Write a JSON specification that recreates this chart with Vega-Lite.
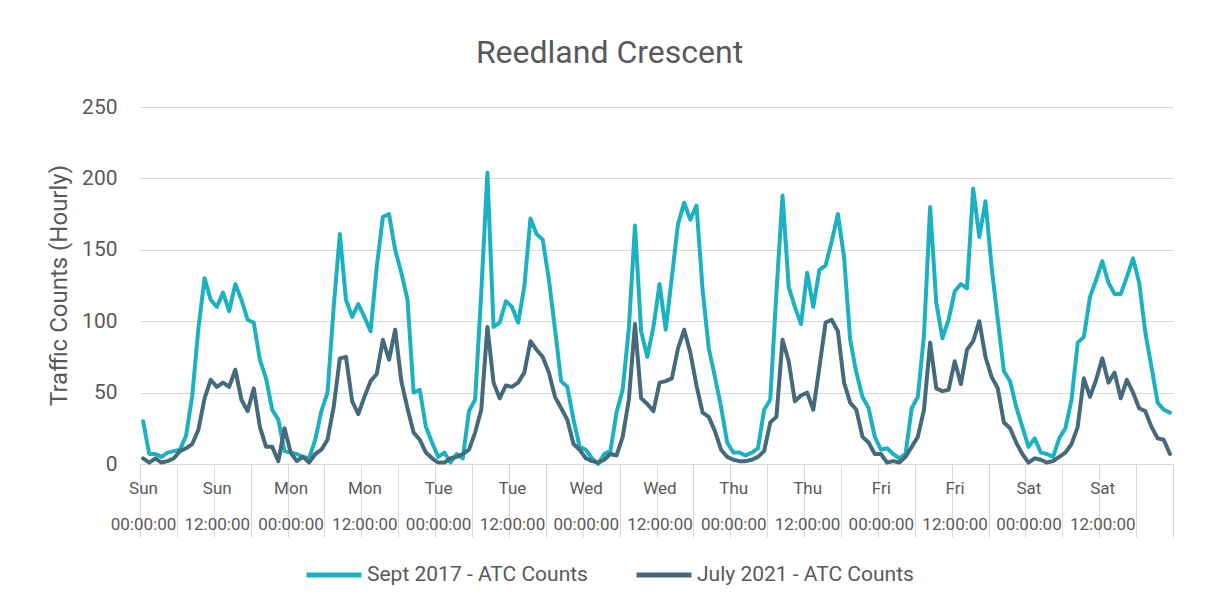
{
  "$schema": "https://vega.github.io/schema/vega-lite/v6.json",
  "autosize": {"type": "none"},
  "width": 1033,
  "height": 357,
  "padding": {"left": 140, "top": 107, "right": 32, "bottom": 143},
  "background": "white",
  "config": {
    "font": "Roboto",
    "view": {"stroke": null}
  },
  "title": {
    "text": "Reedland Crescent",
    "fontSize": 32,
    "fontWeight": "normal",
    "color": "#595959",
    "anchor": "middle",
    "frame": "group",
    "dx": -47,
    "dy": 33,
    "baseline": "alphabetic",
    "offset": 34
  },
  "data": {"values": [
    {"h":0,"Sept 2017 - ATC Counts":30,"July 2021 - ATC Counts":4},
    {"h":1,"Sept 2017 - ATC Counts":7,"July 2021 - ATC Counts":1},
    {"h":2,"Sept 2017 - ATC Counts":7,"July 2021 - ATC Counts":4},
    {"h":3,"Sept 2017 - ATC Counts":5,"July 2021 - ATC Counts":1},
    {"h":4,"Sept 2017 - ATC Counts":8,"July 2021 - ATC Counts":2},
    {"h":5,"Sept 2017 - ATC Counts":9,"July 2021 - ATC Counts":4},
    {"h":6,"Sept 2017 - ATC Counts":10,"July 2021 - ATC Counts":9},
    {"h":7,"Sept 2017 - ATC Counts":20,"July 2021 - ATC Counts":11},
    {"h":8,"Sept 2017 - ATC Counts":48,"July 2021 - ATC Counts":14},
    {"h":9,"Sept 2017 - ATC Counts":95,"July 2021 - ATC Counts":24},
    {"h":10,"Sept 2017 - ATC Counts":130,"July 2021 - ATC Counts":46},
    {"h":11,"Sept 2017 - ATC Counts":115,"July 2021 - ATC Counts":59},
    {"h":12,"Sept 2017 - ATC Counts":110,"July 2021 - ATC Counts":54},
    {"h":13,"Sept 2017 - ATC Counts":120,"July 2021 - ATC Counts":57},
    {"h":14,"Sept 2017 - ATC Counts":107,"July 2021 - ATC Counts":54},
    {"h":15,"Sept 2017 - ATC Counts":126,"July 2021 - ATC Counts":66},
    {"h":16,"Sept 2017 - ATC Counts":115,"July 2021 - ATC Counts":45},
    {"h":17,"Sept 2017 - ATC Counts":101,"July 2021 - ATC Counts":37},
    {"h":18,"Sept 2017 - ATC Counts":99,"July 2021 - ATC Counts":53},
    {"h":19,"Sept 2017 - ATC Counts":73,"July 2021 - ATC Counts":26},
    {"h":20,"Sept 2017 - ATC Counts":60,"July 2021 - ATC Counts":12},
    {"h":21,"Sept 2017 - ATC Counts":38,"July 2021 - ATC Counts":12},
    {"h":22,"Sept 2017 - ATC Counts":31,"July 2021 - ATC Counts":2},
    {"h":23,"Sept 2017 - ATC Counts":9,"July 2021 - ATC Counts":25},
    {"h":24,"Sept 2017 - ATC Counts":8,"July 2021 - ATC Counts":8},
    {"h":25,"Sept 2017 - ATC Counts":7,"July 2021 - ATC Counts":2},
    {"h":26,"Sept 2017 - ATC Counts":5,"July 2021 - ATC Counts":5},
    {"h":27,"Sept 2017 - ATC Counts":4,"July 2021 - ATC Counts":1},
    {"h":28,"Sept 2017 - ATC Counts":17,"July 2021 - ATC Counts":7},
    {"h":29,"Sept 2017 - ATC Counts":37,"July 2021 - ATC Counts":10},
    {"h":30,"Sept 2017 - ATC Counts":50,"July 2021 - ATC Counts":17},
    {"h":31,"Sept 2017 - ATC Counts":110,"July 2021 - ATC Counts":40},
    {"h":32,"Sept 2017 - ATC Counts":161,"July 2021 - ATC Counts":74},
    {"h":33,"Sept 2017 - ATC Counts":115,"July 2021 - ATC Counts":75},
    {"h":34,"Sept 2017 - ATC Counts":103,"July 2021 - ATC Counts":44},
    {"h":35,"Sept 2017 - ATC Counts":112,"July 2021 - ATC Counts":35},
    {"h":36,"Sept 2017 - ATC Counts":103,"July 2021 - ATC Counts":47},
    {"h":37,"Sept 2017 - ATC Counts":93,"July 2021 - ATC Counts":58},
    {"h":38,"Sept 2017 - ATC Counts":138,"July 2021 - ATC Counts":63},
    {"h":39,"Sept 2017 - ATC Counts":173,"July 2021 - ATC Counts":87},
    {"h":40,"Sept 2017 - ATC Counts":175,"July 2021 - ATC Counts":73},
    {"h":41,"Sept 2017 - ATC Counts":150,"July 2021 - ATC Counts":94},
    {"h":42,"Sept 2017 - ATC Counts":134,"July 2021 - ATC Counts":58},
    {"h":43,"Sept 2017 - ATC Counts":115,"July 2021 - ATC Counts":39},
    {"h":44,"Sept 2017 - ATC Counts":50,"July 2021 - ATC Counts":22},
    {"h":45,"Sept 2017 - ATC Counts":52,"July 2021 - ATC Counts":17},
    {"h":46,"Sept 2017 - ATC Counts":26,"July 2021 - ATC Counts":8},
    {"h":47,"Sept 2017 - ATC Counts":15,"July 2021 - ATC Counts":4},
    {"h":48,"Sept 2017 - ATC Counts":5,"July 2021 - ATC Counts":1},
    {"h":49,"Sept 2017 - ATC Counts":8,"July 2021 - ATC Counts":1},
    {"h":50,"Sept 2017 - ATC Counts":1,"July 2021 - ATC Counts":4},
    {"h":51,"Sept 2017 - ATC Counts":7,"July 2021 - ATC Counts":5},
    {"h":52,"Sept 2017 - ATC Counts":4,"July 2021 - ATC Counts":7},
    {"h":53,"Sept 2017 - ATC Counts":37,"July 2021 - ATC Counts":10},
    {"h":54,"Sept 2017 - ATC Counts":45,"July 2021 - ATC Counts":22},
    {"h":55,"Sept 2017 - ATC Counts":120,"July 2021 - ATC Counts":38},
    {"h":56,"Sept 2017 - ATC Counts":204,"July 2021 - ATC Counts":96},
    {"h":57,"Sept 2017 - ATC Counts":96,"July 2021 - ATC Counts":57},
    {"h":58,"Sept 2017 - ATC Counts":99,"July 2021 - ATC Counts":46},
    {"h":59,"Sept 2017 - ATC Counts":114,"July 2021 - ATC Counts":55},
    {"h":60,"Sept 2017 - ATC Counts":110,"July 2021 - ATC Counts":54},
    {"h":61,"Sept 2017 - ATC Counts":99,"July 2021 - ATC Counts":57},
    {"h":62,"Sept 2017 - ATC Counts":124,"July 2021 - ATC Counts":64},
    {"h":63,"Sept 2017 - ATC Counts":172,"July 2021 - ATC Counts":86},
    {"h":64,"Sept 2017 - ATC Counts":161,"July 2021 - ATC Counts":80},
    {"h":65,"Sept 2017 - ATC Counts":157,"July 2021 - ATC Counts":75},
    {"h":66,"Sept 2017 - ATC Counts":129,"July 2021 - ATC Counts":64},
    {"h":67,"Sept 2017 - ATC Counts":94,"July 2021 - ATC Counts":47},
    {"h":68,"Sept 2017 - ATC Counts":58,"July 2021 - ATC Counts":39},
    {"h":69,"Sept 2017 - ATC Counts":54,"July 2021 - ATC Counts":31},
    {"h":70,"Sept 2017 - ATC Counts":31,"July 2021 - ATC Counts":14},
    {"h":71,"Sept 2017 - ATC Counts":12,"July 2021 - ATC Counts":10},
    {"h":72,"Sept 2017 - ATC Counts":10,"July 2021 - ATC Counts":4},
    {"h":73,"Sept 2017 - ATC Counts":4,"July 2021 - ATC Counts":2},
    {"h":74,"Sept 2017 - ATC Counts":0,"July 2021 - ATC Counts":1},
    {"h":75,"Sept 2017 - ATC Counts":7,"July 2021 - ATC Counts":3},
    {"h":76,"Sept 2017 - ATC Counts":9,"July 2021 - ATC Counts":7},
    {"h":77,"Sept 2017 - ATC Counts":36,"July 2021 - ATC Counts":6},
    {"h":78,"Sept 2017 - ATC Counts":52,"July 2021 - ATC Counts":19},
    {"h":79,"Sept 2017 - ATC Counts":95,"July 2021 - ATC Counts":45},
    {"h":80,"Sept 2017 - ATC Counts":167,"July 2021 - ATC Counts":98},
    {"h":81,"Sept 2017 - ATC Counts":93,"July 2021 - ATC Counts":46},
    {"h":82,"Sept 2017 - ATC Counts":75,"July 2021 - ATC Counts":42},
    {"h":83,"Sept 2017 - ATC Counts":96,"July 2021 - ATC Counts":37},
    {"h":84,"Sept 2017 - ATC Counts":126,"July 2021 - ATC Counts":57},
    {"h":85,"Sept 2017 - ATC Counts":94,"July 2021 - ATC Counts":58},
    {"h":86,"Sept 2017 - ATC Counts":131,"July 2021 - ATC Counts":60},
    {"h":87,"Sept 2017 - ATC Counts":168,"July 2021 - ATC Counts":81},
    {"h":88,"Sept 2017 - ATC Counts":183,"July 2021 - ATC Counts":94},
    {"h":89,"Sept 2017 - ATC Counts":171,"July 2021 - ATC Counts":78},
    {"h":90,"Sept 2017 - ATC Counts":181,"July 2021 - ATC Counts":55},
    {"h":91,"Sept 2017 - ATC Counts":122,"July 2021 - ATC Counts":36},
    {"h":92,"Sept 2017 - ATC Counts":81,"July 2021 - ATC Counts":33},
    {"h":93,"Sept 2017 - ATC Counts":61,"July 2021 - ATC Counts":23},
    {"h":94,"Sept 2017 - ATC Counts":40,"July 2021 - ATC Counts":10},
    {"h":95,"Sept 2017 - ATC Counts":15,"July 2021 - ATC Counts":5},
    {"h":96,"Sept 2017 - ATC Counts":8,"July 2021 - ATC Counts":3},
    {"h":97,"Sept 2017 - ATC Counts":8,"July 2021 - ATC Counts":2},
    {"h":98,"Sept 2017 - ATC Counts":6,"July 2021 - ATC Counts":2},
    {"h":99,"Sept 2017 - ATC Counts":8,"July 2021 - ATC Counts":3},
    {"h":100,"Sept 2017 - ATC Counts":11,"July 2021 - ATC Counts":5},
    {"h":101,"Sept 2017 - ATC Counts":38,"July 2021 - ATC Counts":9},
    {"h":102,"Sept 2017 - ATC Counts":45,"July 2021 - ATC Counts":29},
    {"h":103,"Sept 2017 - ATC Counts":120,"July 2021 - ATC Counts":33},
    {"h":104,"Sept 2017 - ATC Counts":188,"July 2021 - ATC Counts":87},
    {"h":105,"Sept 2017 - ATC Counts":124,"July 2021 - ATC Counts":72},
    {"h":106,"Sept 2017 - ATC Counts":110,"July 2021 - ATC Counts":44},
    {"h":107,"Sept 2017 - ATC Counts":98,"July 2021 - ATC Counts":48},
    {"h":108,"Sept 2017 - ATC Counts":134,"July 2021 - ATC Counts":50},
    {"h":109,"Sept 2017 - ATC Counts":110,"July 2021 - ATC Counts":38},
    {"h":110,"Sept 2017 - ATC Counts":136,"July 2021 - ATC Counts":68},
    {"h":111,"Sept 2017 - ATC Counts":139,"July 2021 - ATC Counts":99},
    {"h":112,"Sept 2017 - ATC Counts":156,"July 2021 - ATC Counts":101},
    {"h":113,"Sept 2017 - ATC Counts":175,"July 2021 - ATC Counts":93},
    {"h":114,"Sept 2017 - ATC Counts":145,"July 2021 - ATC Counts":57},
    {"h":115,"Sept 2017 - ATC Counts":87,"July 2021 - ATC Counts":43},
    {"h":116,"Sept 2017 - ATC Counts":64,"July 2021 - ATC Counts":38},
    {"h":117,"Sept 2017 - ATC Counts":47,"July 2021 - ATC Counts":19},
    {"h":118,"Sept 2017 - ATC Counts":39,"July 2021 - ATC Counts":15},
    {"h":119,"Sept 2017 - ATC Counts":19,"July 2021 - ATC Counts":7},
    {"h":120,"Sept 2017 - ATC Counts":10,"July 2021 - ATC Counts":7},
    {"h":121,"Sept 2017 - ATC Counts":11,"July 2021 - ATC Counts":1},
    {"h":122,"Sept 2017 - ATC Counts":7,"July 2021 - ATC Counts":2},
    {"h":123,"Sept 2017 - ATC Counts":4,"July 2021 - ATC Counts":1},
    {"h":124,"Sept 2017 - ATC Counts":7,"July 2021 - ATC Counts":5},
    {"h":125,"Sept 2017 - ATC Counts":39,"July 2021 - ATC Counts":12},
    {"h":126,"Sept 2017 - ATC Counts":47,"July 2021 - ATC Counts":19},
    {"h":127,"Sept 2017 - ATC Counts":90,"July 2021 - ATC Counts":38},
    {"h":128,"Sept 2017 - ATC Counts":180,"July 2021 - ATC Counts":85},
    {"h":129,"Sept 2017 - ATC Counts":113,"July 2021 - ATC Counts":53},
    {"h":130,"Sept 2017 - ATC Counts":88,"July 2021 - ATC Counts":51},
    {"h":131,"Sept 2017 - ATC Counts":101,"July 2021 - ATC Counts":52},
    {"h":132,"Sept 2017 - ATC Counts":121,"July 2021 - ATC Counts":72},
    {"h":133,"Sept 2017 - ATC Counts":126,"July 2021 - ATC Counts":56},
    {"h":134,"Sept 2017 - ATC Counts":123,"July 2021 - ATC Counts":80},
    {"h":135,"Sept 2017 - ATC Counts":193,"July 2021 - ATC Counts":86},
    {"h":136,"Sept 2017 - ATC Counts":159,"July 2021 - ATC Counts":100},
    {"h":137,"Sept 2017 - ATC Counts":184,"July 2021 - ATC Counts":75},
    {"h":138,"Sept 2017 - ATC Counts":138,"July 2021 - ATC Counts":61},
    {"h":139,"Sept 2017 - ATC Counts":101,"July 2021 - ATC Counts":53},
    {"h":140,"Sept 2017 - ATC Counts":65,"July 2021 - ATC Counts":29},
    {"h":141,"Sept 2017 - ATC Counts":58,"July 2021 - ATC Counts":25},
    {"h":142,"Sept 2017 - ATC Counts":40,"July 2021 - ATC Counts":15},
    {"h":143,"Sept 2017 - ATC Counts":26,"July 2021 - ATC Counts":7},
    {"h":144,"Sept 2017 - ATC Counts":12,"July 2021 - ATC Counts":1},
    {"h":145,"Sept 2017 - ATC Counts":18,"July 2021 - ATC Counts":4},
    {"h":146,"Sept 2017 - ATC Counts":8,"July 2021 - ATC Counts":3},
    {"h":147,"Sept 2017 - ATC Counts":7,"July 2021 - ATC Counts":1},
    {"h":148,"Sept 2017 - ATC Counts":5,"July 2021 - ATC Counts":2},
    {"h":149,"Sept 2017 - ATC Counts":18,"July 2021 - ATC Counts":5},
    {"h":150,"Sept 2017 - ATC Counts":25,"July 2021 - ATC Counts":8},
    {"h":151,"Sept 2017 - ATC Counts":45,"July 2021 - ATC Counts":14},
    {"h":152,"Sept 2017 - ATC Counts":85,"July 2021 - ATC Counts":26},
    {"h":153,"Sept 2017 - ATC Counts":89,"July 2021 - ATC Counts":60},
    {"h":154,"Sept 2017 - ATC Counts":117,"July 2021 - ATC Counts":47},
    {"h":155,"Sept 2017 - ATC Counts":129,"July 2021 - ATC Counts":59},
    {"h":156,"Sept 2017 - ATC Counts":142,"July 2021 - ATC Counts":74},
    {"h":157,"Sept 2017 - ATC Counts":127,"July 2021 - ATC Counts":57},
    {"h":158,"Sept 2017 - ATC Counts":119,"July 2021 - ATC Counts":64},
    {"h":159,"Sept 2017 - ATC Counts":119,"July 2021 - ATC Counts":46},
    {"h":160,"Sept 2017 - ATC Counts":131,"July 2021 - ATC Counts":59},
    {"h":161,"Sept 2017 - ATC Counts":144,"July 2021 - ATC Counts":50},
    {"h":162,"Sept 2017 - ATC Counts":127,"July 2021 - ATC Counts":39},
    {"h":163,"Sept 2017 - ATC Counts":92,"July 2021 - ATC Counts":37},
    {"h":164,"Sept 2017 - ATC Counts":68,"July 2021 - ATC Counts":26},
    {"h":165,"Sept 2017 - ATC Counts":43,"July 2021 - ATC Counts":18},
    {"h":166,"Sept 2017 - ATC Counts":38,"July 2021 - ATC Counts":17},
    {"h":167,"Sept 2017 - ATC Counts":36,"July 2021 - ATC Counts":7}
  ]},
  "transform": [
    {"fold": ["Sept 2017 - ATC Counts", "July 2021 - ATC Counts"], "as": ["series", "count"]}
  ],
  "mark": {"type": "line", "strokeWidth": 4, "strokeJoin": "round", "strokeCap": "round"},
  "encoding": {
    "x": {
      "field": "h",
      "type": "quantitative",
      "scale": {"domain": [-0.5, 167.5], "nice": false, "zero": false},
      "axis": {
        "title": null,
        "values": [-0.5, 5.5, 11.5, 17.5, 23.5, 29.5, 35.5, 41.5, 47.5, 53.5, 59.5, 65.5, 71.5, 77.5, 83.5, 89.5, 95.5, 101.5, 107.5, 113.5, 119.5, 125.5, 131.5, 137.5, 143.5, 149.5, 155.5, 161.5, 167.5],
        "labelExpr": "(datum.value + 0.5) % 12 == 0 && datum.value < 167 ? [['Sun','Mon','Tue','Wed','Thu','Fri','Sat'][floor((datum.value + 0.5) / 24)], ((datum.value + 0.5) % 24 == 0 ? '00:00:00' : '12:00:00')] : ''",
        "labelOffset": 3,
        "labelFontSize": 17,
        "labelColor": "#595959",
        "labelLineHeight": 36,
        "labelPadding": -57,
        "labelOverlap": false,
        "labelFlush": false,
        "labelBound": false,
        "tickSize": 73,
        "tickColor": "#d9d9d9",
        "tickWidth": 1,
        "domainColor": "#d9d9d9",
        "domainWidth": 1,
        "grid": false
      }
    },
    "y": {
      "field": "count",
      "type": "quantitative",
      "scale": {"domain": [0, 250], "nice": false},
      "axis": {
        "title": "Traffic Counts (Hourly)",
        "titleFontSize": 24,
        "titleFontWeight": "normal",
        "titleColor": "#595959",
        "titleX": -81,
        "titleY": 178,
        "titleAngle": -90,
        "titleAlign": "center",
        "titleBaseline": "middle",
        "values": [0, 50, 100, 150, 200, 250],
        "labelFontSize": 21,
        "labelColor": "#595959",
        "labelPadding": 23,
        "ticks": false,
        "domain": false,
        "grid": true,
        "gridColor": "#d9d9d9",
        "gridWidth": 1
      }
    },
    "color": {
      "field": "series",
      "type": "nominal",
      "scale": {"domain": ["Sept 2017 - ATC Counts", "July 2021 - ATC Counts"], "range": ["#1BB1C3", "#456A7C"]},
      "legend": {
        "title": null,
        "orient": "none",
        "direction": "horizontal",
        "legendX": 164,
        "legendY": 438,
        "symbolType": "stroke",
        "symbolSize": 3025,
        "symbolStrokeWidth": 5,
        "labelFontSize": 21,
        "labelLimit": 400,
        "labelColor": "#595959",
        "labelOffset": 3,
        "columnPadding": 38,
        "padding": 0
      }
    }
  }
}
